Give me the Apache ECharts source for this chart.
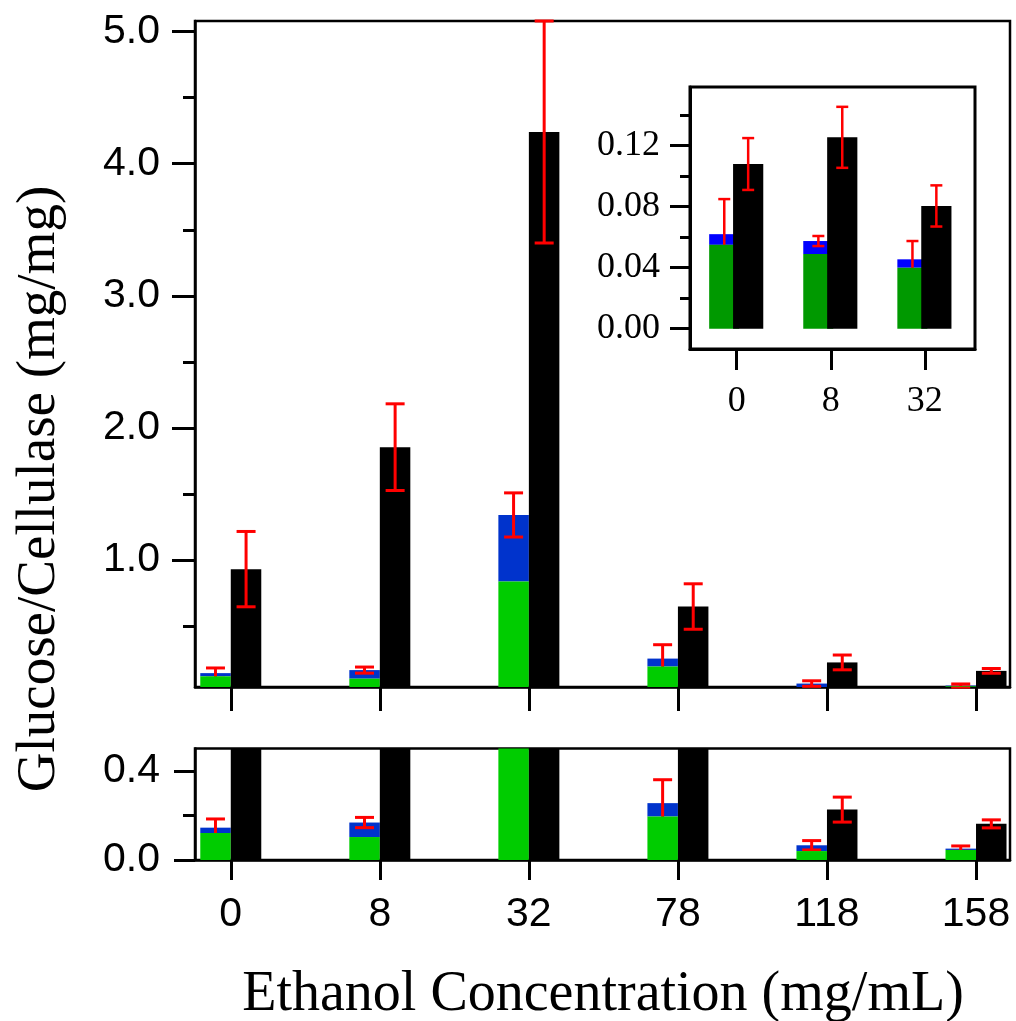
<!DOCTYPE html>
<html>
<head>
<meta charset="utf-8">
<title>Glucose/Cellulase vs Ethanol Concentration</title>
<script src="https://cdn.jsdelivr.net/npm/echarts@6/dist/echarts.min.js"></script>
<style>
  html, body { margin: 0; padding: 0; background: #fff; }
  #chart { width: 1016px; height: 1021px; }
</style>
</head>
<body>
<div id="chart"></div>
<script>
// ---- data -------------------------------------------------------------
const categories = ['0', '8', '32', '78', '118', '158'];
// green segment (bottom of the left bar)
const greenMain = [0.121, 0.103, 0.838, 0.195, 0.040, 0.045];
// top of the stacked green + blue bar
const stackTopMain = [0.145, 0.168, 1.342, 0.255, 0.066, 0.051];
const stackErrMain = [0.039, 0.023, 0.167, 0.105, 0.021, 0.012];
// black bar
const blackMain = [0.932, 1.855, 4.24, 0.649, 0.226, 0.162];
const blackErrMain = [0.285, 0.328, 0.84, 0.172, 0.056, 0.018];

// inset: the three lowest concentrations
const insetCategories = ['0', '8', '32'];
const greenInset = [0.055, 0.049, 0.040];
const stackTopInset = [0.062, 0.0575, 0.0455];
const stackErrInset = [0.023, 0.0033, 0.012];
const blackInset = [0.108, 0.1255, 0.0805];
const blackErrInset = [0.017, 0.020, 0.0135];

// tick positions
const mainMajorTicks = [1, 2, 3, 4, 5];
const mainMinorTicks = [0.5, 1.5, 2.5, 3.5, 4.5];
const lowMajorTicks = [0, 0.4];
const lowMinorTicks = [0.2];
const insetMajorTicks = [0, 0.04, 0.08, 0.12];
const insetMinorTicks = [0.02, 0.06, 0.10, 0.14];

// ---- helpers ----------------------------------------------------------
const SANS = 'Liberation Sans';
const SERIF = 'Liberation Serif';
const RED = '#ff0000';

function csRect(cs) {
  return { x: cs.x, y: cs.y, width: cs.width, height: cs.height };
}

// rectangle from value lo to value hi, shifted by a pixel offset from the tick
function barRender(offset, width, color) {
  return function (params, api) {
    const x = api.value(0), lo = api.value(1), hi = api.value(2);
    const a = api.coord([x, lo]);
    const b = api.coord([x, hi]);
    const shape = echarts.graphic.clipRectByRect(
      { x: a[0] + offset, y: b[1], width: width, height: a[1] - b[1] },
      csRect(params.coordSys)
    );
    if (!shape) return null;
    return { type: 'rect', shape: shape, style: { fill: color } };
  };
}

// vertical error bar with caps, centred at value v, half-length e
function errRender(offset, capW, lw) {
  return function (params, api) {
    const x = api.value(0), v = api.value(1), e = api.value(2);
    const cs = params.coordSys;
    const c = api.coord([x, v]);
    // bars that run past the panel show no error bar there
    if (c[1] < cs.y - 1 || c[1] > cs.y + cs.height + 1) return null;
    const top = api.coord([x, v + e])[1];
    const bot = api.coord([x, v - e])[1];
    const cx = c[0] + offset;
    const y0 = Math.max(top, cs.y);
    const y1 = Math.min(bot, cs.y + cs.height);
    const style = { stroke: RED, lineWidth: lw };
    const children = [];
    if (y1 > y0) {
      children.push({ type: 'line', shape: { x1: cx, y1: y0, x2: cx, y2: y1 }, style: style });
    }
    [top, bot].forEach(function (y) {
      if (y >= cs.y - 2 && y <= cs.y + cs.height + 2) {
        children.push({ type: 'line', shape: { x1: cx - capW / 2, y1: y, x2: cx + capW / 2, y2: y }, style: style });
      }
    });
    return { type: 'group', children: children };
  };
}

function barSeries(xi, yi, lo, hi, offset, width, color, z) {
  return {
    type: 'custom', xAxisIndex: xi, yAxisIndex: yi, z: z, silent: true,
    renderItem: barRender(offset, width, color),
    encode: { x: 0, y: [1, 2] },
    data: hi.map(function (v, i) { return [i, lo ? lo[i] : 0, v]; })
  };
}

function errSeries(xi, yi, vals, errs, offset, capW, lw, z) {
  return {
    type: 'custom', xAxisIndex: xi, yAxisIndex: yi, z: z, silent: true,
    renderItem: errRender(offset, capW, lw),
    encode: { x: 0, y: 1 },
    data: vals.map(function (v, i) { return [i, v, errs[i]]; })
  };
}

// one set of bars + error bars for a panel
function panelSeries(xi, yi, green, stackTop, stackErr, black, blackErr, geo) {
  return [
    barSeries(xi, yi, green, stackTop, geo.gOff, geo.gW, geo.blue, 2),
    errSeries(xi, yi, stackTop, stackErr, geo.gErr, geo.cap, geo.lw, 3),
    barSeries(xi, yi, null, green, geo.gOff, geo.gW, geo.green, 4),
    barSeries(xi, yi, null, black, geo.kOff, geo.kW, '#000', 5),
    errSeries(xi, yi, black, blackErr, geo.kErr, geo.cap, geo.lw, 6)
  ];
}

const mainGeo = { gOff: -30.5, gW: 30.5, kOff: 0, kW: 30.5, gErr: -15.3, kErr: 15.3,
  cap: 19, lw: 3, green: '#00cc00', blue: '#0033cc' };
const insetGeo = { gOff: -27.5, gW: 30, kOff: -3.6, kW: 30.2, gErr: -12.4, kErr: 11.5,
  cap: 12, lw: 2.5, green: '#009900', blue: '#0000ff' };

// ---- axes -------------------------------------------------------------
const X_MIN = -0.24, X_MAX = 5.228;

function tickAxis(common) {
  return Object.assign({
    type: 'value', splitLine: { show: false },
    axisLine: { show: false, onZero: false }, axisTick: { show: false }, axisLabel: { show: false }
  }, common);
}

function line(width) {
  return { show: true, onZero: false, lineStyle: { color: '#000', width: width } };
}

const xAxes = [
  // top panel
  tickAxis({
    gridIndex: 0, min: X_MIN, max: X_MAX, position: 'bottom',
    axisLine: line(2.5),
    axisTick: { show: true, customValues: [0, 1, 2, 3, 4, 5], length: 24, lineStyle: { color: '#000', width: 3 } }
  }),
  // lower panel
  tickAxis({
    gridIndex: 1, min: X_MIN, max: X_MAX, position: 'bottom',
    axisLine: line(2.5),
    axisTick: { show: true, customValues: [0, 1, 2, 3, 4, 5], length: 20, lineStyle: { color: '#000', width: 3 } },
    axisLabel: {
      show: true, customValues: [0, 1, 2, 3, 4, 5], margin: 34,
      formatter: function (v) { return categories[Math.round(v)]; },
      fontFamily: SANS, fontSize: 41, color: '#000'
    }
  }),
  // inset
  tickAxis({
    gridIndex: 2, min: -0.496, max: 2.533, position: 'bottom',
    axisLine: line(3),
    axisTick: { show: true, customValues: [0, 1, 2], length: 21, lineStyle: { color: '#000', width: 3 } },
    axisLabel: {
      show: true, customValues: [0, 1, 2], margin: 35,
      formatter: function (v) { return insetCategories[Math.round(v)]; },
      fontFamily: SERIF, fontSize: 36, color: '#000'
    }
  })
];

const yAxes = [
  // 0: top panel, major ticks + labels
  tickAxis({
    gridIndex: 0, min: 0.04, max: 5.08, position: 'left',
    axisLine: line(2.5),
    axisTick: { show: true, customValues: mainMajorTicks, length: 23, lineStyle: { color: '#000', width: 3 } },
    axisLabel: {
      show: true, customValues: mainMajorTicks, margin: 35,
      formatter: function (v) { return v.toFixed(1); },
      fontFamily: SANS, fontSize: 41, color: '#000'
    }
  }),
  // 1: top panel, minor ticks
  tickAxis({
    gridIndex: 0, min: 0.04, max: 5.08, position: 'left',
    axisTick: { show: true, customValues: mainMinorTicks, length: 12, lineStyle: { color: '#000', width: 3 } }
  }),
  // 2: lower panel, major ticks + labels
  tickAxis({
    gridIndex: 1, min: 0, max: 0.5, position: 'left',
    axisLine: line(2.5),
    axisTick: { show: true, customValues: lowMajorTicks, length: 21, lineStyle: { color: '#000', width: 3 } },
    axisLabel: {
      show: true, customValues: lowMajorTicks, margin: 35,
      formatter: function (v) { return v.toFixed(1); },
      fontFamily: SANS, fontSize: 41, color: '#000'
    }
  }),
  // 3: lower panel, minor ticks
  tickAxis({
    gridIndex: 1, min: 0, max: 0.5, position: 'left',
    axisTick: { show: true, customValues: lowMinorTicks, length: 12, lineStyle: { color: '#000', width: 3 } }
  }),
  // 4: inset, major ticks + labels
  tickAxis({
    gridIndex: 2, min: -0.0133, max: 0.1585, position: 'left',
    axisLine: line(3),
    axisTick: { show: true, customValues: insetMajorTicks, length: 20, lineStyle: { color: '#000', width: 3 } },
    axisLabel: {
      show: true, customValues: insetMajorTicks, margin: 30,
      formatter: function (v) { return v.toFixed(2); },
      fontFamily: SERIF, fontSize: 36, color: '#000'
    }
  }),
  // 5: inset, minor ticks
  tickAxis({
    gridIndex: 2, min: -0.0133, max: 0.1585, position: 'left',
    axisTick: { show: true, customValues: insetMinorTicks, length: 10, lineStyle: { color: '#000', width: 3 } }
  })
];

const grids = [
  { left: 195, top: 21, width: 815, height: 666, show: true, borderColor: '#000', borderWidth: 2.5,
    backgroundColor: 'transparent', outerBoundsMode: 'none', containLabel: false },
  { left: 195, top: 748.5, width: 815, height: 111.5, show: true, borderColor: '#000', borderWidth: 2.5,
    backgroundColor: 'transparent', outerBoundsMode: 'none', containLabel: false },
  { left: 690, top: 87, width: 285, height: 262, show: true, borderColor: '#000', borderWidth: 3,
    backgroundColor: '#fff', outerBoundsMode: 'none', containLabel: false }
];

const series = [].concat(
  panelSeries(0, 0, greenMain, stackTopMain, stackErrMain, blackMain, blackErrMain, mainGeo),
  panelSeries(1, 2, greenMain, stackTopMain, stackErrMain, blackMain, blackErrMain, mainGeo),
  panelSeries(2, 4, greenInset, stackTopInset, stackErrInset, blackInset, blackErrInset, insetGeo)
);

const chart = echarts.init(document.getElementById('chart'), null, { renderer: 'canvas' });
chart.setOption({
  backgroundColor: '#fff',
  animation: false,
  grid: grids,
  xAxis: xAxes,
  yAxis: yAxes,
  series: series,
  graphic: [
    {
      type: 'text', x: 40, y: 489, rotation: Math.PI / 2,
      style: {
        text: 'Glucose/Cellulase (mg/mg)', fill: '#000',
        font: '55px "Liberation Serif"', align: 'center', verticalAlign: 'middle'
      }
    },
    {
      type: 'text', x: 603, y: 995,
      style: {
        text: 'Ethanol Concentration (mg/mL)', fill: '#000',
        font: '56px "Liberation Serif"', align: 'center', verticalAlign: 'middle'
      }
    }
  ]
});
</script>
</body>
</html>
